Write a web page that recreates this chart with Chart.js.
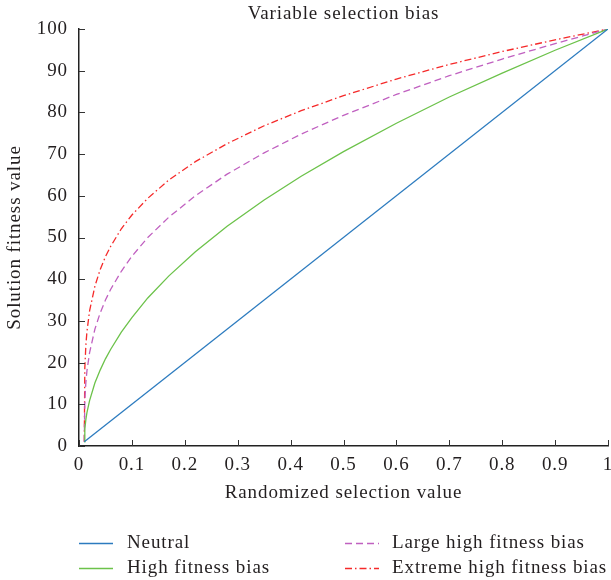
<!DOCTYPE html>
<html>
<head>
<meta charset="utf-8">
<script src="https://cdn.jsdelivr.net/npm/chart.js@4/dist/chart.umd.min.js"></script>
<style>
  html, body { margin: 0; padding: 0; background: #fff; }
  canvas { display: block; }
</style>
</head>
<body>
<canvas id="c" width="611" height="580" style="width:611px;height:580px"></canvas>
<script>
// ---- data ----
const chartTitle = 'Variable selection bias';
const seriesNames = ['Neutral', 'High fitness bias', 'Large high fitness bias', 'Extreme high fitness bias'];
const xNeutral = [0.01, 1];
const yNeutral = [1, 100];
const xCurve = [0.01, 0.011, 0.013, 0.015, 0.02, 0.03, 0.04, 0.05, 0.06, 0.08, 0.1, 0.13, 0.17, 0.22, 0.28, 0.35, 0.42, 0.5, 0.6, 0.7, 0.8, 0.9, 1.0];
const yHigh    = [1, 4.1, 6.4, 8.0, 10.9, 15.1, 18.2, 20.9, 23.2, 27.3, 30.8, 35.5, 40.8, 46.6, 52.7, 59.0, 64.7, 70.6, 77.4, 83.7, 89.4, 94.9, 100];
const yLarge   = [1, 10.9, 15.3, 18.0, 22.4, 28.0, 31.9, 35.0, 37.6, 41.9, 45.5, 50.0, 54.9, 60.0, 65.2, 70.3, 74.8, 79.3, 84.3, 88.8, 92.8, 96.5, 100];
const yExtreme = [1, 18.7, 24.2, 27.4, 32.4, 38.3, 42.3, 45.4, 47.9, 52.1, 55.4, 59.4, 63.8, 68.2, 72.5, 76.8, 80.4, 84.0, 88.0, 91.5, 94.6, 97.4, 100];
const xTickLabels = ['0', '0.1', '0.2', '0.3', '0.4', '0.5', '0.6', '0.7', '0.8', '0.9', '1'];
const yTickLabels = ['0', '10', '20', '30', '40', '50', '60', '70', '80', '90', '100'];

const FONT = "'Liberation Serif', 'DejaVu Serif', serif";
const FS = 19;
const SPACING = '0.9px';
const TEXT = '#231f20';

function pts(xs, ys) { return xs.map((x, i) => ({ x: x, y: ys[i] })); }

// slightly wider text spacing to approximate the reference serif face
const spacing = {
  id: 'spacing',
  beforeLayout(chart) { chart.ctx.letterSpacing = SPACING; },
  beforeDraw(chart) { chart.ctx.letterSpacing = SPACING; }
};

// inward tick marks drawn through the library's scales
const innerTicks = {
  id: 'innerTicks',
  afterDraw(chart) {
    const ctx = chart.ctx, a = chart.chartArea;
    const xs = chart.scales.x, ys = chart.scales.y;
    ctx.save();
    ctx.strokeStyle = '#333';
    ctx.lineWidth = 1;
    ctx.beginPath();
    xs.ticks.forEach(t => {
      const px = Math.round(xs.getPixelForValue(t.value)) + 0.5;
      ctx.moveTo(px, a.bottom);
      ctx.lineTo(px, a.bottom - 6);
    });
    ys.ticks.forEach(t => {
      const py = Math.round(ys.getPixelForValue(t.value)) + 0.5;
      ctx.moveTo(a.left, py);
      ctx.lineTo(a.left + 6, py);
    });
    ctx.stroke();
    ctx.restore();
  }
};

// title centred over the plot area
const plotTitle = {
  id: 'plotTitle',
  afterDraw(chart) {
    const ctx = chart.ctx, a = chart.chartArea;
    ctx.save();
    ctx.letterSpacing = SPACING;
    ctx.font = FS + 'px ' + FONT;
    ctx.fillStyle = TEXT;
    ctx.textAlign = 'center';
    ctx.textBaseline = 'middle';
    ctx.fillText(chartTitle, (a.left + a.right) / 2, 14);
    ctx.restore();
  }
};

// two-column legend below the plot
const colLegend = {
  id: 'colLegend',
  afterDraw(chart) {
    const ctx = chart.ctx;
    const layout = [
      { i: 0, lx: 79, tx: 127, y: 543 },
      { i: 1, lx: 79, tx: 127, y: 568 },
      { i: 2, lx: 345, tx: 392, y: 543 },
      { i: 3, lx: 345, tx: 392, y: 568 }
    ];
    ctx.save();
    ctx.letterSpacing = SPACING;
    ctx.font = FS + 'px ' + FONT;
    ctx.textBaseline = 'middle';
    ctx.textAlign = 'left';
    layout.forEach(it => {
      const ds = chart.data.datasets[it.i];
      ctx.strokeStyle = ds.borderColor;
      ctx.lineWidth = ds.borderWidth;
      ctx.setLineDash(ds.borderDash || []);
      ctx.beginPath();
      ctx.moveTo(it.lx, it.y + 0.5);
      ctx.lineTo(it.lx + 34, it.y + 0.5);
      ctx.stroke();
      ctx.setLineDash([]);
      ctx.fillStyle = TEXT;
      ctx.fillText(ds.label, it.tx, it.y);
    });
    ctx.restore();
  }
};

new Chart(document.getElementById('c'), {
  type: 'line',
  data: {
    datasets: [
      { label: seriesNames[0], data: pts(xNeutral, yNeutral), borderColor: '#2c7bbf', borderWidth: 1.3, pointRadius: 0, fill: false, tension: 0 },
      { label: seriesNames[1], data: pts(xCurve, yHigh), borderColor: '#6cc24a', borderWidth: 1.3, pointRadius: 0, fill: false, tension: 0 },
      { label: seriesNames[2], data: pts(xCurve, yLarge), borderColor: '#c060c0', borderWidth: 1.3, borderDash: [7, 4], pointRadius: 0, fill: false, tension: 0 },
      { label: seriesNames[3], data: pts(xCurve, yExtreme), borderColor: '#f52a2a', borderWidth: 1.3, borderDash: [7, 3, 1.5, 3], pointRadius: 0, fill: false, tension: 0 }
    ]
  },
  options: {
    responsive: false,
    animation: false,
    devicePixelRatio: 1,
    layout: { padding: { left: 0, right: 3, top: 29, bottom: 72 } },
    plugins: {
      legend: { display: false },
      tooltip: { enabled: false },
      title: { display: false }
    },
    scales: {
      x: {
        type: 'linear',
        min: 0, max: 1,
        grid: { display: false, drawTicks: false },
        border: { display: true, color: '#222', width: 1.5 },
        ticks: {
          stepSize: 0.1,
          padding: 8,
          color: TEXT,
          maxRotation: 0,
          autoSkip: false,
          font: { family: FONT, size: FS },
          callback: (v, i) => xTickLabels[i]
        },
        title: {
          display: true,
          text: 'Randomized selection value',
          color: TEXT,
          font: { family: FONT, size: FS },
          padding: { top: 0, bottom: 4 }
        },
        afterFit(s) { s.height = 62; s.paddingLeft = 0; s.paddingRight = 3; }
      },
      y: {
        type: 'linear',
        min: 0, max: 100,
        grid: { display: false, drawTicks: false },
        border: { display: true, color: '#222', width: 1.5 },
        ticks: {
          stepSize: 10,
          padding: 11,
          color: TEXT,
          autoSkip: false,
          font: { family: FONT, size: FS },
          callback: (v, i) => yTickLabels[i]
        },
        title: {
          display: true,
          text: 'Solution fitness value',
          color: TEXT,
          font: { family: FONT, size: FS },
          padding: { top: 4, bottom: 0 }
        },
        afterFit(s) { s.width = 79; s.paddingTop = 0; s.paddingBottom = 0; }
      }
    }
  },
  plugins: [spacing, innerTicks, plotTitle, colLegend]
});
</script>
</body>
</html>
